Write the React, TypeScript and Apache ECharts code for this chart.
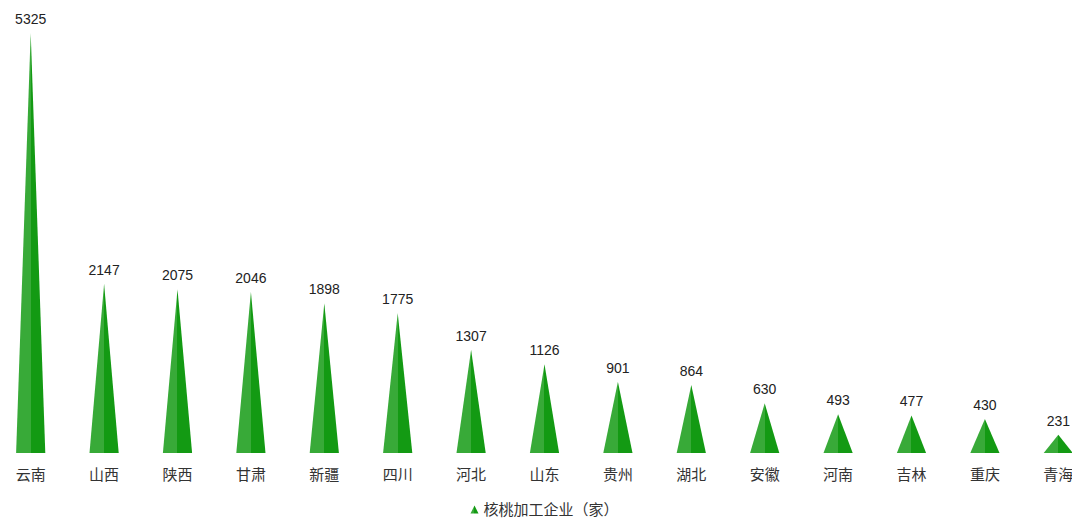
import React, { useEffect, useRef } from 'react'
import * as echarts from 'echarts'

const provinces = ['云南', '山西', '陕西', '甘肃', '新疆', '四川', '河北', '山东', '贵州', '湖北', '安徽', '河南', '吉林', '重庆', '青海']
const companyCounts = [5325, 2147, 2075, 2046, 1898, 1775, 1307, 1126, 901, 864, 630, 493, 477, 430, 231]
const seriesName = '核桃加工企业（家）'

const FONT = '"Liberation Sans", "Noto Sans CJK SC", sans-serif'

const App: React.FC = () => {
    const chartRef = useRef<HTMLDivElement>(null)

    useEffect(() => {
        const chart = echarts.init(chartRef.current, null, { renderer: 'svg' })

        const option = {
            animation: false,
            textStyle: { fontFamily: FONT },
            grid: { left: 0, right: 0, top: 33, bottom: 73 },
            legend: {
                bottom: 4,
                left: 'center',
                icon: 'triangle',
                itemWidth: 8,
                itemHeight: 8,
                itemGap: 4,
                textStyle: { color: '#333', fontSize: 15, fontFamily: FONT },
                data: [seriesName],
            },
            xAxis: {
                type: 'category',
                data: provinces,
                axisLine: { show: false },
                axisTick: { show: false },
                axisLabel: { color: '#333', fontSize: 15, margin: 14, fontFamily: FONT },
            },
            yAxis: {
                type: 'value',
                min: 0,
                max: 'dataMax',
                show: false,
                splitLine: { show: false },
            },
            series: [
                {
                    name: seriesName,
                    type: 'pictorialBar',
                    symbol: 'triangle',
                    symbolSize: [29, '100%'],
                    data: companyCounts,
                    itemStyle: {
                        color: new echarts.graphic.LinearGradient(0, 0, 1, 0, [
                            { offset: 0, color: '#38aa38' },
                            { offset: 0.5, color: '#38aa38' },
                            { offset: 0.5, color: '#139a13' },
                            { offset: 1, color: '#139a13' },
                        ]),
                    },
                    label: {
                        show: true,
                        position: 'top',
                        distance: 7,
                        color: '#222',
                        fontSize: 14,
                        fontFamily: FONT,
                    },
                },
            ],
        }

        chart.setOption(option)

        const handleResize = () => {
            chart.resize()
        }
        window.addEventListener('resize', handleResize)

        return () => {
            window.removeEventListener('resize', handleResize)
            chart.dispose()
        }
    }, [])

    return <div ref={chartRef} style={{ width: '1101px', height: '526px', margin: '-8px 0 0 -14px' }} />
}

export default App
